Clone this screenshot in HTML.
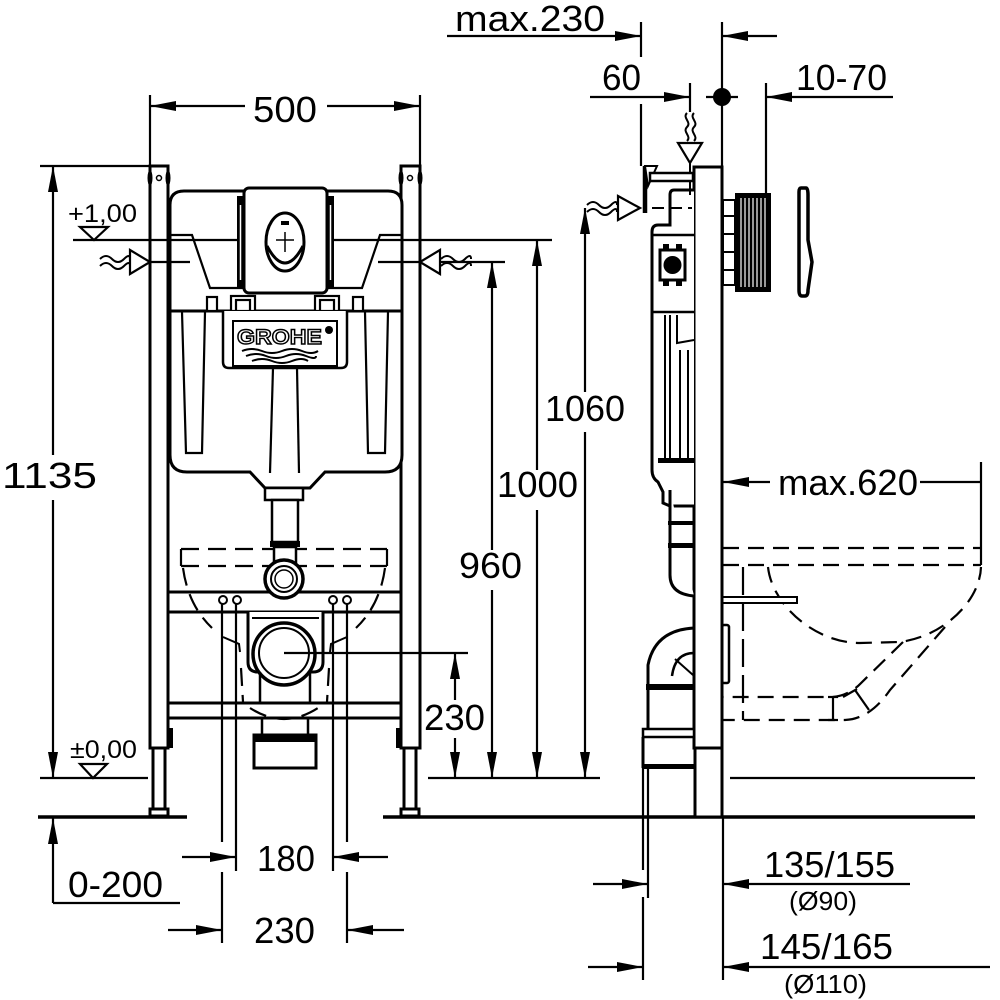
<!DOCTYPE html>
<html><head><meta charset="utf-8"><style>
html,body{margin:0;padding:0;background:#fff;}
svg{display:block;}
text{font-family:"Liberation Sans",Arial,sans-serif;fill:#000;stroke:none;}
</style></head><body>
<svg width="1000" height="1000" viewBox="0 0 1000 1000" xmlns="http://www.w3.org/2000/svg">
<defs>
<marker id="a" markerUnits="userSpaceOnUse" markerWidth="26" markerHeight="10" refX="26" refY="5" orient="auto"><path d="M0,0 L26,5 L0,10 Z" fill="#000"/></marker>
</defs>
<rect width="1000" height="1000" fill="#fff"/>

<!-- dimension lines -->
<g stroke="#000" stroke-width="2.2" fill="none">
<line x1="447" y1="36" x2="641" y2="36" marker-end="url(#a)"/>
<line x1="641" y1="22" x2="641" y2="57"/>
<line x1="777" y1="36" x2="722" y2="36" marker-end="url(#a)"/>
<line x1="722" y1="22" x2="722" y2="167"/>
<line x1="590" y1="97" x2="690" y2="97" marker-end="url(#a)"/>
<line x1="690" y1="83" x2="690" y2="112"/>
<line x1="641" y1="104" x2="641" y2="166"/>
<line x1="706" y1="97" x2="738" y2="97"/>
<line x1="893" y1="97" x2="766" y2="97" marker-end="url(#a)"/>
<line x1="766" y1="83" x2="766" y2="193"/>
<line x1="245" y1="106" x2="150" y2="106" marker-end="url(#a)"/>
<line x1="327" y1="106" x2="420" y2="106" marker-end="url(#a)"/>
<line x1="150" y1="95" x2="150" y2="166"/>
<line x1="420" y1="95" x2="420" y2="166"/>
<line x1="40" y1="166" x2="150" y2="166"/>
<line x1="53" y1="455" x2="53" y2="166" marker-end="url(#a)"/>
<line x1="53" y1="500" x2="53" y2="778" marker-end="url(#a)"/>
<line x1="40" y1="778" x2="148" y2="778"/>
<line x1="53" y1="903" x2="53" y2="818" marker-end="url(#a)"/>
<line x1="53" y1="903" x2="180" y2="903"/>
<line x1="585" y1="392" x2="585" y2="208" marker-end="url(#a)"/>
<line x1="585" y1="432" x2="585" y2="778" marker-end="url(#a)"/>
<line x1="537" y1="470" x2="537" y2="240" marker-end="url(#a)"/>
<line x1="537" y1="510" x2="537" y2="778" marker-end="url(#a)"/>
<line x1="492" y1="550" x2="492" y2="262" marker-end="url(#a)"/>
<line x1="492" y1="590" x2="492" y2="778" marker-end="url(#a)"/>
<line x1="428" y1="778" x2="600" y2="778"/>
<line x1="455" y1="700" x2="455" y2="653" marker-end="url(#a)"/>
<line x1="455" y1="738" x2="455" y2="778" marker-end="url(#a)"/>
<line x1="770" y1="482" x2="723" y2="482" marker-end="url(#a)"/>
<line x1="920" y1="482" x2="981" y2="482"/>
<line x1="981" y1="462" x2="981" y2="548"/>
<line x1="182" y1="857" x2="236" y2="857" marker-end="url(#a)"/>
<line x1="388" y1="857" x2="333" y2="857" marker-end="url(#a)"/>
<line x1="168" y1="930" x2="222" y2="930" marker-end="url(#a)"/>
<line x1="404" y1="930" x2="347" y2="930" marker-end="url(#a)"/>
<line x1="593" y1="884" x2="648" y2="884" marker-end="url(#a)"/>
<line x1="910" y1="884" x2="723" y2="884" marker-end="url(#a)"/>
<line x1="643" y1="768" x2="643" y2="870"/>
<line x1="643" y1="897" x2="643" y2="980"/>
<line x1="648" y1="768" x2="648" y2="898"/>
<line x1="723" y1="817" x2="723" y2="980"/>
<line x1="588" y1="967" x2="643" y2="967" marker-end="url(#a)"/>
<line x1="990" y1="967" x2="723" y2="967" marker-end="url(#a)"/>
<line x1="730" y1="778" x2="975" y2="778"/>
</g>
<circle cx="722" cy="97" r="9" fill="#000"/>
<g stroke="#000" stroke-width="3.5">
<line x1="38" y1="817" x2="187" y2="817"/>
<line x1="383" y1="817" x2="975" y2="817"/>
</g>

<!-- LEFT VIEW -->
<g stroke="#000" stroke-width="2.2" fill="none" stroke-dasharray="18,9">
<line x1="181" y1="549" x2="387" y2="549"/>
<line x1="181" y1="566" x2="387" y2="566"/>
<path d="M183,568 Q188,605 212,628"/>
<path d="M385,568 Q380,605 356,628"/>
<path d="M250,708 Q284,730 318,708"/>
<path d="M241,668 L243,702"/>
<path d="M329,668 L327,702"/>
</g>
<g stroke="#000" stroke-width="2.2" fill="none">
<line x1="181" y1="549" x2="181" y2="566"/>
<line x1="387" y1="549" x2="387" y2="566"/>
</g>

<g stroke="#000" stroke-width="3" fill="#fff">
<rect x="150" y="166" width="18" height="582"/>
<rect x="401" y="166" width="19" height="582"/>
<rect x="153" y="748" width="12" height="62"/>
<rect x="404" y="748" width="12" height="62"/>
<rect x="150" y="809" width="18" height="7"/>
<rect x="401" y="809" width="18" height="7"/>
</g>
<g fill="#000">
<ellipse cx="150" cy="178" rx="2.5" ry="8"/>
<ellipse cx="168" cy="178" rx="2.5" ry="8"/>
<ellipse cx="401" cy="178" rx="2.5" ry="8"/>
<ellipse cx="420" cy="178" rx="2.5" ry="8"/>
<rect x="168" y="728" width="5" height="20"/>
<rect x="396" y="728" width="5" height="20"/>
</g>
<g stroke="#000" stroke-width="1.5" fill="#fff">
<circle cx="159" cy="178" r="2.5"/>
<circle cx="410" cy="178" r="2.5"/>
</g>

<!-- tank -->
<g stroke="#000" stroke-width="3" fill="#fff">
<path d="M170,311 L170,205 Q170,191 184,191 L388,191 Q402,191 402,205 L402,311 Z"/>
<path d="M170,311 L170,455 Q170,472 187,472 L250,472 L265,488 L310,488 L325,472 L385,472 Q402,472 402,455 L402,311 Z"/>
</g>
<g stroke="#000" stroke-width="2.2" fill="none">
<path d="M170,235 L192,235 L210,288 L244,288"/>
<path d="M327,288 L362,288 L380,235 L402,235"/>
<path d="M182,312 L186,453 L202,453 L205,312"/>
<path d="M365,312 L368,453 L385,453 L388,312"/>
<path d="M273,368 L270,473"/>
<path d="M297,368 L299,473"/>
</g>
<g stroke="#000" stroke-width="2.2" fill="#fff">
<rect x="207" y="297" width="10" height="14"/>
<rect x="231" y="296" width="24" height="15"/>
<rect x="315" y="296" width="24" height="15"/>
<rect x="353" y="297" width="10" height="14"/>
<rect x="236" y="300" width="14" height="11"/>
<rect x="320" y="300" width="14" height="11"/>
</g>

<!-- flush plate -->
<rect x="237" y="196" width="7" height="92" fill="#000"/>
<rect x="327" y="196" width="7" height="92" fill="#000"/>
<line x1="240.5" y1="205" x2="240.5" y2="280" stroke="#fff" stroke-width="1.5"/>
<line x1="330.5" y1="205" x2="330.5" y2="280" stroke="#fff" stroke-width="1.5"/>

<!-- level lines -->
<g stroke="#000" stroke-width="2.2">
<line x1="73" y1="240" x2="237" y2="240"/>
<line x1="334" y1="240" x2="552" y2="240"/>
<line x1="150" y1="262" x2="190" y2="262"/>
<line x1="378" y1="262" x2="505" y2="262"/>
</g>

<rect x="244" y="188" width="83" height="105" rx="5" fill="#fff" stroke="#000" stroke-width="3"/>
<ellipse cx="285" cy="242" rx="19" ry="29" fill="#fff" stroke="#000" stroke-width="3"/>
<path d="M267,246 Q285,280 303,246" fill="none" stroke="#000" stroke-width="3"/>
<line x1="285" y1="232" x2="285" y2="252" stroke="#000" stroke-width="1.5"/>
<line x1="276" y1="240" x2="294" y2="240" stroke="#000" stroke-width="1.5"/>
<rect x="281" y="221" width="8" height="4" fill="#000"/>

<!-- GROHE label -->
<path d="M223,311 L223,362 Q223,368 229,368 L341,368 Q347,368 347,362 L347,311" stroke="#000" stroke-width="2.5" fill="#fff"/>
<rect x="233" y="321" width="104" height="45" stroke="#000" stroke-width="2" fill="#fff"/>
<text x="237" y="344" font-size="21" font-weight="bold" textLength="85" lengthAdjust="spacingAndGlyphs" style="fill:#fff;stroke:#000;stroke-width:1.4">GROHE</text>
<circle cx="329" cy="330" r="4" fill="#000"/>
<g stroke="#000" stroke-width="2" fill="none">
<path d="M242,351 Q252,347 262,351 T282,351 T302,351 T318,351"/>
<path d="M246,356 Q256,352 266,356 T286,356 T306,356 T316,356"/>
<path d="M252,361 Q262,357 272,361 T292,361 T308,361"/>
</g>

<!-- pipe from tank -->
<g stroke="#000" stroke-width="2.5" fill="#fff">
<rect x="265" y="488" width="38" height="12"/>
<rect x="272" y="500" width="26" height="42"/>
<rect x="274" y="547" width="22" height="18"/>
</g>
<rect x="270" y="541" width="30" height="6" fill="#000"/>

<!-- crossbar -->
<g stroke="#000" stroke-width="3">
<line x1="168" y1="592" x2="401" y2="592"/>
<line x1="168" y1="612" x2="401" y2="612"/>
</g>
<circle cx="284" cy="579" r="19" fill="#fff" stroke="#000" stroke-width="3.5"/>
<circle cx="284" cy="579" r="13" fill="#fff" stroke="#000" stroke-width="2"/>
<circle cx="284" cy="579" r="9" fill="#fff" stroke="#000" stroke-width="1.5"/>
<g stroke="#000" stroke-width="2" fill="#fff">
<circle cx="223" cy="600" r="4"/>
<circle cx="237" cy="600" r="4"/>
<circle cx="333" cy="600" r="4"/>
<circle cx="347" cy="600" r="4"/>
</g>

<!-- outlet fitting -->
<path d="M248,612 L248,662 Q248,672 258,672 L313,672 Q323,672 323,662 L323,612" stroke="#000" stroke-width="3" fill="#fff"/>
<line x1="252" y1="618" x2="319" y2="618" stroke="#000" stroke-width="2"/>
<circle cx="284" cy="654" r="31" fill="#fff" stroke="#000" stroke-width="3.5"/>
<circle cx="284" cy="653" r="25" fill="#fff" stroke="#000" stroke-width="2"/>
<g stroke="#000" stroke-width="2.5">
<line x1="260" y1="672" x2="260" y2="703"/>
<line x1="310" y1="672" x2="310" y2="703"/>
<line x1="262" y1="718" x2="262" y2="735"/>
<line x1="308" y1="718" x2="308" y2="735"/>
</g>
<g stroke="#000" stroke-width="3">
<line x1="168" y1="703" x2="401" y2="703"/>
<line x1="168" y1="718" x2="401" y2="718"/>
</g>
<rect x="254" y="735" width="62" height="33" stroke="#000" stroke-width="3" fill="#fff"/>
<rect x="254" y="735" width="62" height="7" fill="#000"/>
<g stroke="#000" stroke-width="2" fill="none">
<path d="M223,637 L239,644 L240,652"/>
<path d="M347,637 L331,644 L330,652"/>
</g>

<!-- extension lines over left view -->
<g stroke="#000" stroke-width="2.2">
<line x1="236" y1="604" x2="236" y2="871"/>
<line x1="333" y1="604" x2="333" y2="871"/>
<line x1="222" y1="604" x2="222" y2="842"/>
<line x1="222" y1="872" x2="222" y2="943"/>
<line x1="347" y1="604" x2="347" y2="842"/>
<line x1="347" y1="872" x2="347" y2="943"/>
<line x1="284" y1="653" x2="468" y2="653"/>
</g>

<!-- inlet symbols left view -->
<g stroke="#000" stroke-width="2.2" fill="#fff">
<polygon points="130,250 150,262 130,274"/>
<polygon points="440,250 420,262 440,274"/>
<polygon points="80,227 108,227 94,240"/>
<polygon points="80,764 107,764 93,778"/>
</g>
<g stroke="#000" stroke-width="2" fill="none">
<path d="M100,259 Q106,253 112,259 T124,259 T130,259"/>
<path d="M100,266 Q106,260 112,266 T124,266 T130,266"/>
<path d="M441,259 Q447,253 453,259 T465,259 T471,259"/>
<path d="M441,266 Q447,260 453,266 T465,266 T471,266"/>
</g>

<!-- RIGHT VIEW -->
<!-- dashed toilet -->
<g stroke="#000" stroke-width="2.2" fill="none" stroke-dasharray="16,9">
<line x1="723" y1="548" x2="981" y2="548"/>
<line x1="723" y1="565" x2="981" y2="565"/>
<path d="M768,567 C772,605 815,643 860,643 L900,642 C945,636 980,600 981,567"/>
<path d="M945,627 L890,690 Q870,719 845,720 L723,720"/>
<path d="M903,642 L858,686 Q845,697 830,697 L723,697"/>
</g>
<line x1="743" y1="567" x2="743" y2="720" stroke="#000" stroke-width="2.2" stroke-dasharray="28,8"/>
<g stroke="#000" stroke-width="2.2" fill="none">
<line x1="981" y1="548" x2="981" y2="565"/>
<line x1="833" y1="697" x2="833" y2="720"/>
<line x1="828" y1="697" x2="838" y2="697"/>
<line x1="828" y1="720" x2="838" y2="720"/>
<line x1="855" y1="690" x2="869" y2="710"/>
<line x1="843" y1="697" x2="857" y2="689"/>
</g>
<rect x="722" y="597" width="75" height="6" stroke="#000" stroke-width="2" fill="#fff"/>
<rect x="722" y="625" width="7" height="58" rx="2" stroke="#000" stroke-width="2.5" fill="#fff"/>

<!-- frame bar -->
<rect x="694" y="167" width="28" height="581" stroke="#000" stroke-width="3" fill="#fff"/>
<rect x="695" y="748" width="27" height="69" stroke="#000" stroke-width="3" fill="#fff"/>

<!-- actuator -->
<rect x="723" y="200" width="12" height="85" stroke="#000" stroke-width="2" fill="#fff"/>
<g stroke="#000" stroke-width="2">
<line x1="723" y1="216" x2="735" y2="216"/>
<line x1="723" y1="234" x2="735" y2="234"/>
<line x1="723" y1="252" x2="735" y2="252"/>
<line x1="723" y1="270" x2="735" y2="270"/>
</g>
<rect x="735" y="193" width="36" height="99" fill="#000"/>
<g stroke="#fff" stroke-width="1.2">
<line x1="741" y1="198" x2="741" y2="287"/>
<line x1="745" y1="198" x2="745" y2="287"/>
<line x1="749" y1="198" x2="749" y2="287"/>
<line x1="753" y1="198" x2="753" y2="287"/>
<line x1="757" y1="198" x2="757" y2="287"/>
<line x1="761" y1="198" x2="761" y2="287"/>
<line x1="765" y1="198" x2="765" y2="287"/>
</g>
<!-- plate side -->
<path d="M801,188 L806,188 Q808,188 808,195 L808,240 L812,262 L808,290 Q808,296 805,296 L802,296 Q799,296 799,290 L799,192 Q799,188 801,188 Z" stroke="#000" stroke-width="3.5" fill="#fff"/>

<!-- tank side -->
<path d="M694,190 L674,190 Q670,190 670,195 L670,225 L658,225 Q652,225 652,232 L652,470 Q652,478 658,482 L663,492 L663,503 L670,506 L694,506" stroke="#000" stroke-width="3" fill="#fff"/>
<g stroke="#000" stroke-width="2.5" fill="none">
<line x1="652" y1="235" x2="694" y2="235"/>
<line x1="652" y1="312" x2="694" y2="312"/>
</g>
<g stroke="#000" stroke-width="2" fill="none">
<path d="M665,315 L665,458"/>
<path d="M670,315 L670,458"/>
<path d="M677,315 L677,343 L694,340"/>
<path d="M680,350 L680,462"/>
<path d="M688,350 L688,462"/>
</g>
<rect x="658" y="458" width="36" height="5" fill="#000"/>
<rect x="660" y="250" width="25" height="30" stroke="#000" stroke-width="3" fill="#fff"/>
<circle cx="672.5" cy="265" r="9" fill="#000"/>
<g fill="#000">
<rect x="663" y="244" width="6" height="7"/>
<rect x="676" y="244" width="6" height="7"/>
<rect x="663" y="279" width="6" height="7"/>
<rect x="676" y="279" width="6" height="7"/>
</g>

<!-- pipe below tank -->
<path d="M670,490 L670,575 Q670,594 694,596" stroke="#000" stroke-width="3" fill="#fff"/>
<rect x="668" y="521" width="26" height="4" fill="#000"/>
<rect x="668" y="543" width="26" height="5" fill="#000"/>
<!-- elbow -->
<path d="M694,628 Q655,630 648,665 L648,687" stroke="#000" stroke-width="3" fill="none"/>
<path d="M694,653 Q675,653 672,676" stroke="#000" stroke-width="2.5" fill="none"/>
<line x1="675" y1="659" x2="693" y2="675" stroke="#000" stroke-width="2"/>
<rect x="646" y="684" width="48" height="6" fill="#000"/>
<line x1="648" y1="690" x2="648" y2="730" stroke="#000" stroke-width="3"/>
<rect x="643" y="729" width="51" height="8" stroke="#000" stroke-width="2.5" fill="#fff"/>
<line x1="643" y1="737" x2="643" y2="768" stroke="#000" stroke-width="3"/>
<rect x="643" y="764" width="51" height="5" fill="#000"/>

<!-- top inlet right view -->
<g stroke="#000" stroke-width="2" fill="none">
<path d="M687,113 C682,118 692,122 687,127 C682,132 692,136 687,141"/>
<path d="M694,113 C689,118 699,122 694,127 C689,132 699,136 694,141"/>
<line x1="690" y1="163" x2="690" y2="195"/>
<path d="M587,205 Q593,199 599,205 T611,205 T617,205"/>
<path d="M587,212 Q593,206 599,212 T611,212 T617,212"/>
</g>
<line x1="652" y1="208" x2="692" y2="208" stroke="#000" stroke-width="2" stroke-dasharray="12,6"/>
<g stroke="#000" stroke-width="2.2" fill="#fff">
<polygon points="678,143 702,143 690,163"/>
<polygon points="618,196 640,208 618,220"/>
</g>
<line x1="645" y1="166" x2="645" y2="213" stroke="#000" stroke-width="4.5"/>
<polygon points="645,166 657,166 648,186" stroke="#000" stroke-width="2" fill="#fff"/>
<rect x="650" y="173" width="43" height="8" stroke="#000" stroke-width="2.5" fill="#fff"/>

<!-- texts -->
<text x="455" y="31" font-size="36" textLength="150" lengthAdjust="spacingAndGlyphs">max.230</text>
<text x="602" y="90" font-size="36" textLength="39" lengthAdjust="spacingAndGlyphs">60</text>
<text x="796" y="90" font-size="36" textLength="91" lengthAdjust="spacingAndGlyphs">10-70</text>
<text x="253" y="122" font-size="36" textLength="64" lengthAdjust="spacingAndGlyphs">500</text>
<text x="2" y="488" font-size="36" textLength="95" lengthAdjust="spacingAndGlyphs">1135</text>
<text x="68" y="222" font-size="25" textLength="69" lengthAdjust="spacingAndGlyphs">+1,00</text>
<text x="70" y="758" font-size="25" textLength="67" lengthAdjust="spacingAndGlyphs">±0,00</text>
<text x="68" y="897" font-size="36" textLength="95" lengthAdjust="spacingAndGlyphs">0-200</text>
<text x="545" y="421" font-size="36" textLength="80" lengthAdjust="spacingAndGlyphs">1060</text>
<text x="497" y="497" font-size="36" textLength="81" lengthAdjust="spacingAndGlyphs">1000</text>
<text x="459" y="578" font-size="36" textLength="63" lengthAdjust="spacingAndGlyphs">960</text>
<text x="424" y="730" font-size="36" textLength="61" lengthAdjust="spacingAndGlyphs">230</text>
<text x="778" y="495" font-size="36" textLength="140" lengthAdjust="spacingAndGlyphs">max.620</text>
<text x="257" y="871" font-size="36" textLength="58" lengthAdjust="spacingAndGlyphs">180</text>
<text x="254" y="943" font-size="36" textLength="61" lengthAdjust="spacingAndGlyphs">230</text>
<text x="764" y="877" font-size="36" textLength="131" lengthAdjust="spacingAndGlyphs">135/155</text>
<text x="789" y="910" font-size="26" textLength="68" lengthAdjust="spacingAndGlyphs">(Ø90)</text>
<text x="760" y="959" font-size="36" textLength="133" lengthAdjust="spacingAndGlyphs">145/165</text>
<text x="784" y="993" font-size="26" textLength="83" lengthAdjust="spacingAndGlyphs">(Ø110)</text>
</svg>
</body></html>
